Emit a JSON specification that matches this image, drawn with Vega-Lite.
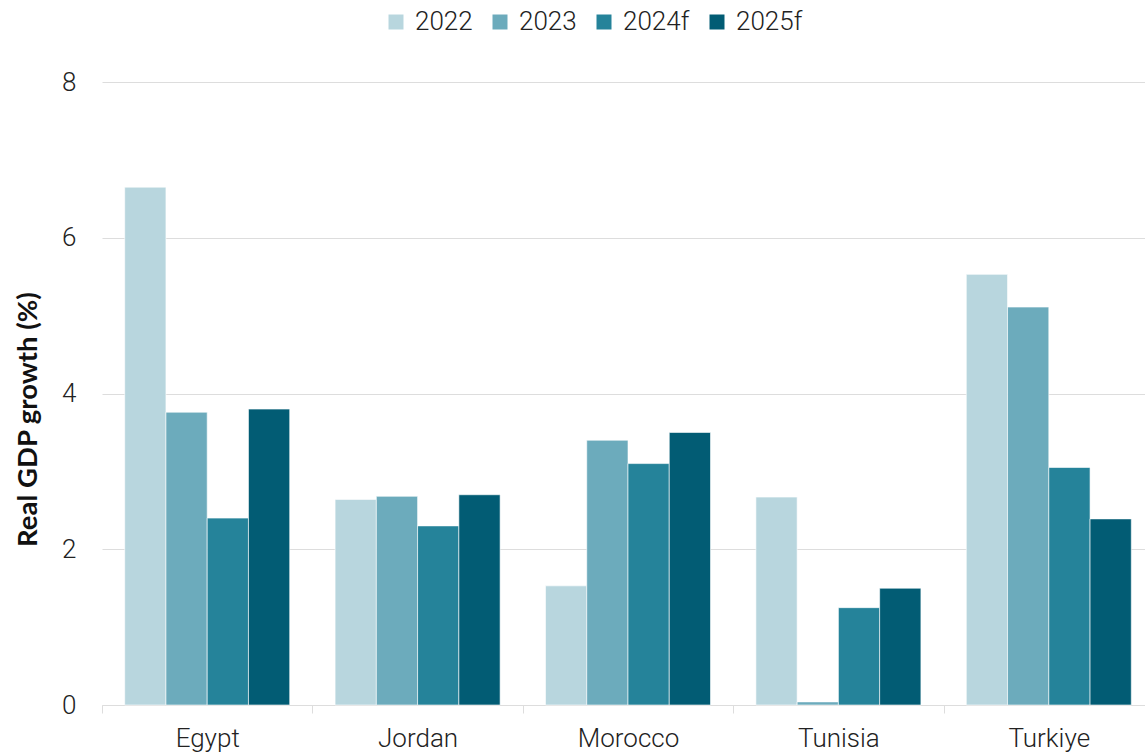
{
  "$schema": "https://vega.github.io/schema/vega-lite/v6.json",
  "width": 1043,
  "height": 623,
  "autosize": {"type": "none"},
  "padding": {"left": 102, "top": 82, "right": 0, "bottom": 49},
  "background": "#ffffff",
  "data": {
    "values": [
      {"country": "Egypt", "year": "2022", "growth": 6.65},
      {"country": "Egypt", "year": "2023", "growth": 3.76},
      {"country": "Egypt", "year": "2024f", "growth": 2.40},
      {"country": "Egypt", "year": "2025f", "growth": 3.80},
      {"country": "Jordan", "year": "2022", "growth": 2.64},
      {"country": "Jordan", "year": "2023", "growth": 2.68},
      {"country": "Jordan", "year": "2024f", "growth": 2.30},
      {"country": "Jordan", "year": "2025f", "growth": 2.70},
      {"country": "Morocco", "year": "2022", "growth": 1.53},
      {"country": "Morocco", "year": "2023", "growth": 3.40},
      {"country": "Morocco", "year": "2024f", "growth": 3.10},
      {"country": "Morocco", "year": "2025f", "growth": 3.50},
      {"country": "Tunisia", "year": "2022", "growth": 2.67},
      {"country": "Tunisia", "year": "2023", "growth": 0.04},
      {"country": "Tunisia", "year": "2024f", "growth": 1.25},
      {"country": "Tunisia", "year": "2025f", "growth": 1.50},
      {"country": "Turkiye", "year": "2022", "growth": 5.53},
      {"country": "Turkiye", "year": "2023", "growth": 5.11},
      {"country": "Turkiye", "year": "2024f", "growth": 3.05},
      {"country": "Turkiye", "year": "2025f", "growth": 2.39}
    ]
  },
  "mark": {"type": "bar", "stroke": "#ffffff", "strokeWidth": 1, "strokeOpacity": 0.6},
  "encoding": {
    "x": {
      "field": "country",
      "type": "nominal",
      "sort": ["Egypt", "Jordan", "Morocco", "Tunisia", "Turkiye"],
      "scale": {"range": [0, 1052], "paddingInner": 0, "paddingOuter": 0},
      "axis": {
        "title": null,
        "labelAngle": 0,
        "labelFont": "Roboto",
        "labelFontWeight": 300,
        "labelFontSize": 26,
        "labelColor": "#222222",
        "labelPadding": 12,
        "tickBand": "extent",
        "tickSize": 8,
        "tickColor": "#dddddd",
        "domainColor": "#dddddd",
        "grid": false
      }
    },
    "xOffset": {
      "field": "year",
      "type": "nominal",
      "sort": ["2022", "2023", "2024f", "2025f"],
      "scale": {"paddingInner": 0, "paddingOuter": 0.55}
    },
    "y": {
      "field": "growth",
      "type": "quantitative",
      "scale": {"domain": [0, 8], "nice": false},
      "axis": {
        "title": "Real GDP growth (%)",
        "titleFont": "Lato",
        "titleFontWeight": "bold",
        "titleFontSize": 27.5,
        "titleColor": "#111111",
        "titleAngle": -90,
        "titleX": -74,
        "titleY": 337,
        "titleAlign": "center",
        "titleBaseline": "middle",
        "values": [0, 2, 4, 6, 8],
        "labelFont": "Roboto",
        "labelFontWeight": 300,
        "labelFontSize": 26,
        "labelColor": "#222222",
        "labelPadding": 26,
        "ticks": false,
        "domain": false,
        "grid": true,
        "gridColor": "#dddddd",
        "gridWidth": 1
      }
    },
    "color": {
      "field": "year",
      "type": "nominal",
      "sort": ["2022", "2023", "2024f", "2025f"],
      "scale": {
        "domain": ["2022", "2023", "2024f", "2025f"],
        "range": ["#b8d6de", "#6cabbc", "#25839a", "#025c74"]
      },
      "legend": {
        "title": null,
        "orient": "none",
        "direction": "horizontal",
        "legendX": 281,
        "legendY": -73,
        "symbolType": "square",
        "symbolSize": 225,
        "symbolStrokeWidth": 0,
        "symbolOpacity": 1,
        "labelFont": "Roboto",
        "labelFontWeight": 300,
        "labelFontSize": 26,
        "labelColor": "#222222",
        "labelOffset": 6,
        "columnPadding": 14
      }
    }
  },
  "config": {
    "view": {"stroke": null}
  }
}
